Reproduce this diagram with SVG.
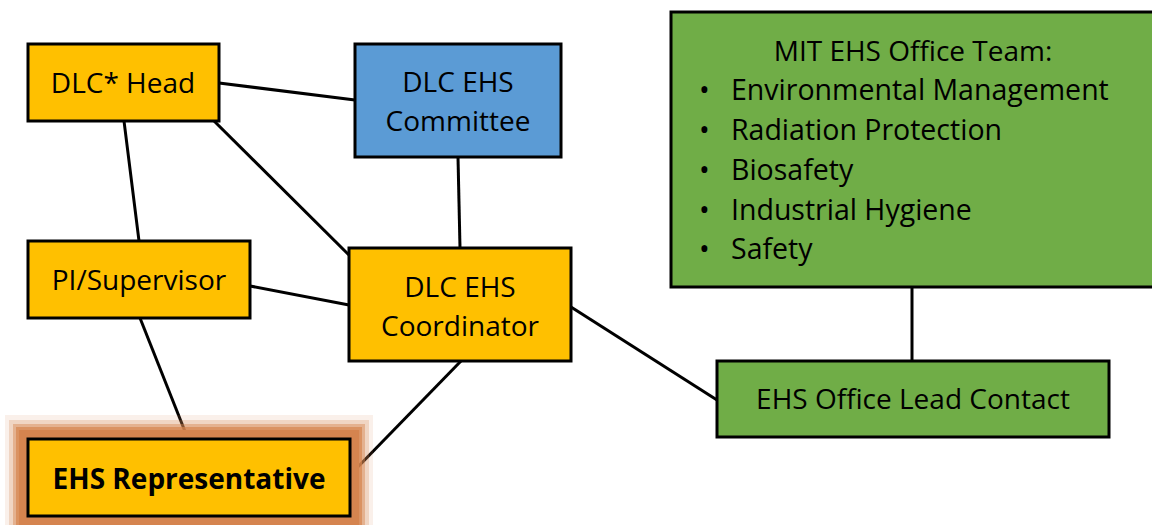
<svg xmlns="http://www.w3.org/2000/svg" width="1152" height="525" viewBox="0 0 1152 525">
  <style>
    .box { stroke: #000; stroke-width: 3; }
    .orange { fill: #FFC000; }
    .blue { fill: #5B9BD5; }
    .green { fill: #70AD47; }
    .lbl { font-family: "Open Sans", "Liberation Sans", sans-serif; font-size: 28px; fill: #000; text-anchor: middle; }
    .list { font-family: "Open Sans", "Liberation Sans", sans-serif; font-size: 28.5px; fill: #000; }
    .halo { fill: #D5844F; }
    .edge { stroke: #000; stroke-width: 3; fill: none; }
  </style>

  <g id="connectors">
    <line class="edge" x1="219" y1="83" x2="355" y2="100"/>
    <line class="edge" x1="208" y1="115" x2="349" y2="255"/>
    <line class="edge" x1="124" y1="121" x2="139" y2="241"/>
    <line class="edge" x1="458" y1="157" x2="460" y2="248"/>
    <line class="edge" x1="250" y1="286" x2="349" y2="305"/>
    <line class="edge" x1="140" y1="318" x2="188" y2="439"/>
    <line class="edge" x1="461" y1="361" x2="350" y2="475"/>
    <line class="edge" x1="571" y1="307" x2="717" y2="400"/>
    <line class="edge" x1="912" y1="287" x2="912" y2="361"/>
  </g>

  <g id="dlc-head">
    <rect class="box orange" x="28" y="44" width="191" height="77"/>
    <text class="lbl" x="123" y="93">DLC* Head</text>
  </g>

  <g id="dlc-ehs-committee">
    <rect class="box blue" x="355" y="44" width="206" height="113"/>
    <text class="lbl" x="458" y="92">DLC EHS</text>
    <text class="lbl" x="458" y="131">Committee</text>
  </g>

  <g id="pi-supervisor">
    <rect class="box orange" x="28" y="241" width="222" height="77"/>
    <text class="lbl" x="139" y="290">PI/Supervisor</text>
  </g>

  <g id="dlc-ehs-coordinator">
    <rect class="box orange" x="349" y="248" width="222" height="113"/>
    <text class="lbl" x="460" y="297">DLC EHS</text>
    <text class="lbl" x="460" y="336">Coordinator</text>
  </g>

  <g id="ehs-representative">
    <!-- soft orange halo, fading outward -->
    <rect class="halo" x="5" y="415" width="368" height="125" opacity="0.12"/>
    <rect class="halo" x="9" y="420" width="360" height="115" opacity="0.25"/>
    <rect class="halo" x="13" y="424" width="352" height="107" opacity="0.45"/>
    <rect class="halo" x="16" y="427" width="346" height="101" opacity="0.7"/>
    <rect class="halo" x="19" y="430" width="340" height="95"/>
    <rect class="box orange" x="28" y="439" width="322" height="77"/>
    <text class="lbl" x="189" y="489" font-weight="bold" font-size="27">EHS Representative</text>
  </g>

  <g id="mit-ehs-office-team">
    <rect class="box green" x="671" y="12" width="490" height="275"/>
    <text class="lbl" x="913" y="61">MIT EHS Office Team:</text>
    <g class="list">
      <text x="699" y="100">•</text><text x="731" y="100">Environmental Management</text>
      <text x="699" y="140">•</text><text x="731" y="140">Radiation Protection</text>
      <text x="699" y="180">•</text><text x="731" y="180">Biosafety</text>
      <text x="699" y="220">•</text><text x="731" y="220">Industrial Hygiene</text>
      <text x="699" y="259">•</text><text x="731" y="259">Safety</text>
    </g>
  </g>

  <g id="ehs-office-lead-contact">
    <rect class="box green" x="717" y="361" width="392" height="76"/>
    <text class="lbl" x="913" y="409">EHS Office Lead Contact</text>
  </g>
</svg>
